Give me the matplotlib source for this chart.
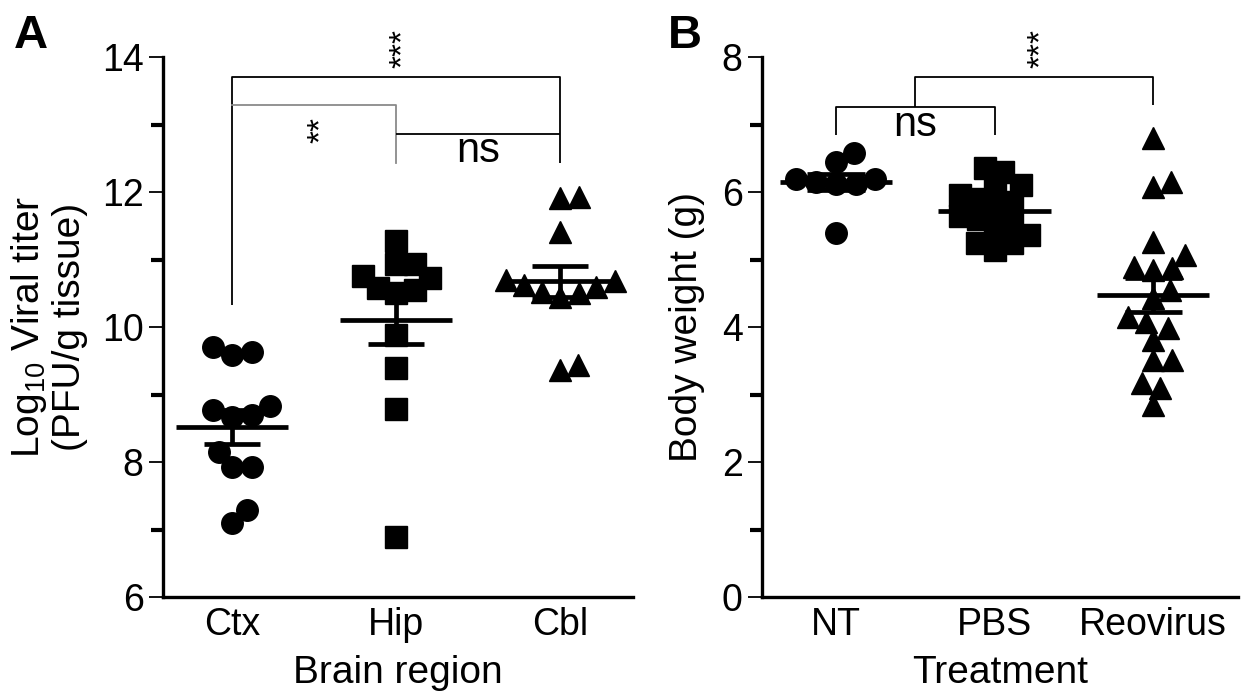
import numpy as np
import matplotlib
matplotlib.use("Agg")
import matplotlib.pyplot as plt
from matplotlib.ticker import MultipleLocator
from matplotlib.transforms import offset_copy

plt.rcParams['font.family'] = ['Liberation Sans', 'DejaVu Sans']
plt.rcParams['mathtext.fontset'] = 'custom'
plt.rcParams['mathtext.rm'] = 'Liberation Sans'
plt.rcParams['mathtext.it'] = 'Liberation Sans:italic'
plt.rcParams['mathtext.bf'] = 'Liberation Sans:bold'

# ---------------- data ----------------
regions = ["Ctx", "Hip", "Cbl"]
ctx_titer = [9.63, 9.59, 9.70, 8.77, 8.67, 8.70, 8.83, 8.15, 7.93, 7.93, 7.29, 7.10]
hip_titer = [11.27, 10.93, 10.93, 10.75, 10.72, 10.58, 10.55, 10.50, 9.88, 9.39, 8.79, 6.89]
cbl_titer = [11.93, 11.91, 11.41, 10.70, 10.62, 10.52, 10.45, 10.50, 10.60, 10.68, 9.36, 9.44]

treatments = ["NT", "PBS", "Reovirus"]
nt_weight = [6.44, 6.58, 5.39, 6.20, 6.12, 6.15, 6.12, 6.20]
pbs_weight = [6.30, 6.36, 6.10, 6.05, 5.95, 5.90, 5.85, 5.75, 5.65, 5.60, 5.55, 5.45,
              5.36, 5.24, 5.14, 5.24]
reo_weight = [6.80, 6.15, 6.07, 5.26, 5.07, 4.87, 4.84, 4.89, 4.55, 4.43, 4.15, 4.07,
              3.98, 3.81, 3.51, 3.51, 3.17, 3.10, 2.84]

sig_a = ["***", "**", "ns"]
sig_b = ["ns", "***"]

# ---------------- helpers ----------------
def swarm_x(ax, center, values, d_px):
    vals = np.asarray(values, float)
    pts = ax.transData.transform(np.column_stack([np.full(len(vals), center), vals]))
    cx = pts[0, 0]
    ys = pts[:, 1]
    order = np.argsort(vals, kind="stable")
    placed = []
    offs = np.zeros(len(vals))
    for i in order:
        y = ys[i]
        cands = [0.0]
        for px, py in placed:
            dy = abs(py - y)
            if dy < d_px:
                dx = np.sqrt(d_px ** 2 - dy ** 2)
                cands += [px + dx, px - dx]
        valid = [c for c in cands
                 if all((c - px) ** 2 + (y - py) ** 2 >= d_px ** 2 - 1e-6 for px, py in placed)]
        best = min(valid, key=lambda c: (round(abs(c), 6), -c))
        placed.append((best, y))
        offs[i] = best
    back = ax.transData.inverted().transform(np.column_stack([cx + offs, ys]))
    return back[:, 0]


def mean_sem(ax, x, values, half_w, cap_w):
    v = np.asarray(values, float)
    m = v.mean()
    s = v.std(ddof=1) / np.sqrt(len(v))
    kw = dict(color="black", lw=3.4, solid_capstyle="butt", zorder=5)
    ax.plot([x - half_w, x + half_w], [m, m], **kw)
    ax.plot([x, x], [m - s, m + s], **kw)
    ax.plot([x - cap_w, x + cap_w], [m + s, m + s], **kw)
    ax.plot([x - cap_w, x + cap_w], [m - s, m - s], **kw)


def style_axes(ax):
    for side in ("top", "right"):
        ax.spines[side].set_visible(False)
    for side in ("left", "bottom"):
        ax.spines[side].set_linewidth(2.4)
    ax.tick_params(axis="y", which="major", length=10, width=1.3, direction="out",
                   labelsize=27, pad=4)
    ax.tick_params(axis="y", which="minor", length=8.5, width=3.0, direction="out")
    ax.tick_params(axis="x", which="both", length=0, labelsize=27, pad=7)


W, H = 1253, 698
fig = plt.figure(figsize=(W / 100, H / 100), dpi=100)

axA = fig.add_axes([163 / W, 1 - 597 / H, (633 - 163) / W, (597 - 57) / H])
axB = fig.add_axes([762 / W, 1 - 597 / H, (1238 - 762) / W, (597 - 57) / H])

# ---------------- panel A ----------------
axA.set_xlim(-0.421, 2.445)
axA.set_ylim(6, 14)
axA.yaxis.set_major_locator(MultipleLocator(2))
axA.yaxis.set_minor_locator(MultipleLocator(1))
axA.set_xticks(range(len(regions)))
axA.set_xticklabels(regions)
style_axes(axA)

groups_a = [(ctx_titer, "o", 15.5, 20), (hip_titer, "s", 15.5, 19), (cbl_titer, "^", 15.5, 19)]
for i, (vals, mk, ms, d) in enumerate(groups_a):
    xs = swarm_x(axA, i, vals, d)
    axA.plot(xs, vals, ls="none", marker=mk, ms=ms, color="black", mec="black", zorder=3)
    mean_sem(axA, i, vals, 0.34, 0.17)

bk = dict(color="black", lw=1.3, clip_on=False, solid_capstyle="butt", zorder=2)
axA.plot([0, 0, 2, 2], [10.33, 13.70, 13.70, 12.43], **bk)
axA.plot([0, 1, 1], [13.29, 13.29, 12.43], color="#8a8a8a", lw=1.3, clip_on=False, zorder=2)
axA.plot([1, 2], [12.86, 12.86], **bk)
starsA = offset_copy(axA.transData, fig=fig, x=5, y=0, units="points")
axA.text(1, 14.13, sig_a[0], rotation=90, ha="center", va="center", fontsize=24,
         clip_on=False, transform=starsA)
axA.text(0.5, 12.92, sig_a[1], rotation=90, ha="center", va="center", fontsize=24,
         transform=starsA)
axA.text(1.5, 12.60, sig_a[2], ha="center", va="center", fontsize=30)

axA.set_xlabel("Brain region", fontsize=28, labelpad=9)
axA.set_ylabel("Log$_{10}$ Viral titer\n(PFU/g tissue)", fontsize=28, labelpad=10,
               linespacing=1.1)

# ---------------- panel B ----------------
axB.set_xlim(-0.467, 2.536)
axB.set_ylim(0, 8)
axB.yaxis.set_major_locator(MultipleLocator(2))
axB.yaxis.set_minor_locator(MultipleLocator(1))
axB.set_xticks(range(len(treatments)))
axB.set_xticklabels(treatments)
style_axes(axB)

groups_b = [(nt_weight, "o", 15.5, 20), (pbs_weight, "s", 15.5, 19), (reo_weight, "^", 15.5, 19)]
for i, (vals, mk, ms, d) in enumerate(groups_b):
    xs = swarm_x(axB, i, vals, d)
    axB.plot(xs, vals, ls="none", marker=mk, ms=ms, color="black", mec="black", zorder=3)
    mean_sem(axB, i, vals, 0.355, 0.18)

axB.plot([0, 0, 1, 1], [6.84, 7.26, 7.26, 6.84], **bk)
axB.plot([0.5, 0.5, 2, 2], [7.26, 7.70, 7.70, 7.29], **bk)
starsB = offset_copy(axB.transData, fig=fig, x=5, y=0, units="points")
axB.text(0.5, 6.99, sig_b[0], ha="center", va="center", fontsize=30)
axB.text(1.25, 8.13, sig_b[1], rotation=90, ha="center", va="center", fontsize=24,
         clip_on=False, transform=starsB)

axB.set_xlabel("Treatment", fontsize=28, labelpad=9)
axB.set_ylabel("Body weight (g)", fontsize=28, labelpad=12)

# panel letters
fig.text(14 / W, 1 - 48 / H, "A", fontsize=34, fontweight="bold", ha="left", va="baseline")
fig.text(668 / W, 1 - 48 / H, "B", fontsize=34, fontweight="bold", ha="left", va="baseline")

fig.savefig("out.png", dpi=100)
